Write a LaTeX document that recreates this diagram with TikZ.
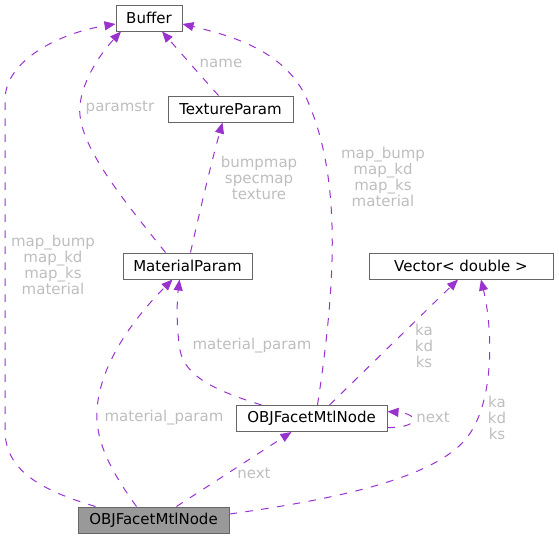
\documentclass[tikz,border=0pt]{standalone}
\usepackage{fontspec}
\setmainfont{DejaVu Sans}
\usetikzlibrary{arrows.meta}
\definecolor{edgepurple}{HTML}{9A32CD}
\definecolor{labelgrey}{HTML}{BEBEBE}
\definecolor{boxgrey}{HTML}{666666}
\definecolor{mainfill}{HTML}{999999}
\begin{document}
\begin{tikzpicture}[x=1pt,y=-1pt]
\tikzstyle{classbox} = [rectangle, draw=boxgrey, fill=white, minimum height=26pt, inner sep=0pt, line width=1pt, font=\fontsize{15}{16}\selectfont]
\tikzstyle{mainbox} = [classbox, fill=mainfill]
\tikzstyle{lbl} = [text=labelgrey, align=center, inner sep=0pt, font=\fontsize{15}{16}\selectfont]
\tikzstyle{member} = [draw=edgepurple, line width=1pt, dash pattern=on 7.5pt off 8.5pt, ->, >={Triangle[length=11pt,width=9pt]}]

\useasboundingbox (0,0) rectangle (559,539);

%nodes
\node (buffer) [classbox, minimum width=66pt] at (149,18) {Buffer};
\node (texparam) [classbox, minimum width=125pt] at (230.5,109) {TextureParam};
\node (matparam) [classbox, minimum width=129pt] at (187.5,266) {MaterialParam};
\node (vecdouble) [classbox, minimum width=184pt] at (461,266) {Vector< double >};
\node (objnode) [classbox, minimum width=151pt] at (311.5,418.5) {OBJFacetMtlNode};
\node (objmain) [mainbox, minimum width=151pt] at (153.5,520) {OBJFacetMtlNode};

%labels
\node (lmapa) [lbl] at (53,265) {map\_bump\\map\_kd\\map\_ks\\material};
\node (lparamstr) [lbl] at (120,108) {paramstr};
\node (lname) [lbl] at (221,63) {name};
\node (lbump) [lbl] at (259,178) {bumpmap\\specmap\\texture};
\node (lmapb) [lbl] at (383,177) {map\_bump\\map\_kd\\map\_ks\\material};
\node (lmpa) [lbl] at (252,346) {material\_param};
\node (lmpb) [lbl] at (164,418) {material\_param};
\node (lkaa) [lbl] at (424,346) {ka\\kd\\ks};
\node (lkab) [lbl] at (497,418) {ka\\kd\\ks};
\node (lnexta) [lbl] at (433,417) {next};
\node (lnextb) [lbl] at (254,473) {next};

%lines
\draw [member] ([xshift=-58pt]objmain.north) .. controls (40,490) and (5,470) .. (5,430) -- (5,100) .. controls (5,60) and (60,33) .. ([yshift=-6pt]buffer.west);
\draw [member] ([xshift=-22pt]matparam.north) .. controls (115,190) and (76,140) .. (80,105) .. controls (83,78) and (102,52) .. ([xshift=-28pt]buffer.south);
\draw [member] ([xshift=-12pt]texparam.north) .. controls (200,75) and (180,52) .. ([xshift=13pt]buffer.south);
\draw [member] ([xshift=3pt]matparam.north) .. controls (200,210) and (212,160) .. ([xshift=-8pt]texparam.south);
\draw [member] ([xshift=6pt]objnode.north) .. controls (338,270) and (340,170) .. (305,95) .. controls (282,50) and (232,36) .. ([yshift=-6pt]buffer.east);
\draw [member] ([xshift=-50pt]objnode.north) .. controls (220,392) and (185,378) .. (180,350) .. controls (176,325) and (177,300) .. ([xshift=-8pt]matparam.south);
\draw [member] ([xshift=-17pt]objmain.north) .. controls (110,470) and (95,440) .. (97,410) .. controls (100,360) and (140,312) .. ([xshift=-15pt]matparam.south);
\draw [member] ([xshift=18pt]objnode.north) -- ([xshift=-3pt]vecdouble.south);
\draw [member] ([yshift=6pt]objmain.east) .. controls (330,500) and (430,480) .. (465,440) .. controls (495,405) and (493,330) .. ([xshift=20pt]vecdouble.south);
\draw [member] ([yshift=-9pt]objnode.east) .. controls (420,428) and (420,414) .. ([yshift=7pt]objnode.east);
\draw [member] ([xshift=23pt]objmain.north) -- ([xshift=-20pt]objnode.south);

\end{tikzpicture}
\end{document}
